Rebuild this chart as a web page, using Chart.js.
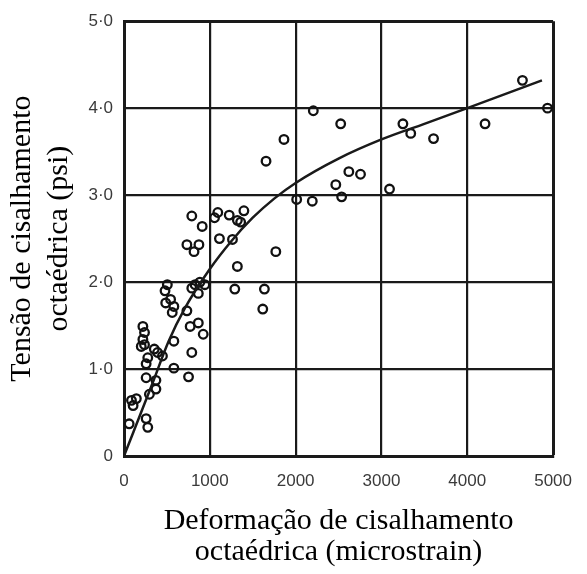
<!DOCTYPE html>
<html>
<head>
<meta charset="utf-8">
<script src="https://cdn.jsdelivr.net/npm/chart.js@4"></script>
<style>
  html, body { margin: 0; padding: 0; background: #fff; }
  #wrap { width: 587px; height: 574px; }
</style>
</head>
<body>
<div id="wrap"><canvas id="c"></canvas></div>
<script>
// measured points: octahedral shear strain (microstrain) vs octahedral shear stress (psi)
var strainX = [60, 258, 277, 87, 144, 106, 258, 372, 372, 296, 277, 258, 353, 391, 448,
    220, 239, 220, 201, 239, 581, 752, 790, 581, 771, 866, 923, 733, 486, 543, 581, 562,
    505, 478, 790, 828, 885, 866, 942,
    790, 911, 1055, 1093, 1226, 1397, 1321, 1359, 1112, 1264, 733, 816, 873, 1769, 1321,
    1291, 1636, 1617,
    2206, 2525, 1864, 1655, 2620, 2756, 2468, 2536, 2012, 2194, 3094, 3250, 3341, 3607,
    4207, 4643, 4935];
var stressY = [0.37, 0.43, 0.33, 0.64, 0.66, 0.58, 0.90, 0.87, 0.77, 0.71, 1.13, 1.06, 1.23, 1.19, 1.15,
    1.49, 1.42, 1.34, 1.26, 1.28, 1.01, 0.91, 1.19, 1.32, 1.49, 1.53, 1.40, 1.67, 1.76, 1.80, 1.72, 1.65,
    1.97, 1.90, 1.93, 1.97, 2.00, 1.87, 1.97,
    2.76, 2.64, 2.74, 2.80, 2.77, 2.82, 2.71, 2.69, 2.50, 2.49, 2.43, 2.35, 2.43, 2.35, 2.18,
    1.92, 1.92, 1.69,
    3.97, 3.82, 3.64, 3.39, 3.27, 3.24, 3.12, 2.98, 2.95, 2.93, 3.07, 3.82, 3.71, 3.65,
    3.82, 4.32, 4.00];

// fitted curve
var curveX = [0, 330, 520, 710, 1000, 1250, 1500, 1750, 2000, 2500, 3000, 3500, 4000, 4870];
var curveY = [0, 0.83, 1.32, 1.70, 2.15, 2.47, 2.74, 2.96, 3.14, 3.42, 3.64, 3.82, 4.00, 4.32];

var xTickLabels = ['0', '1000', '2000', '3000', '4000', '5000'];
var yTickLabels = ['0', '1·0', '2·0', '3·0', '4·0', '5·0'];

var xTitle = ['Deformação de cisalhamento', 'octaédrica (microstrain)'];
var yTitle = ['Tensão de cisalhamento', 'octaédrica (psi)'];

function pts(xs, ys) { return xs.map(function (x, i) { return { x: x, y: ys[i] }; }); }
function edgeWidth(ctx) { return ctx.index === 5 ? 3 : 2.2; }

var tickFont = { family: '"Liberation Sans", Arial, sans-serif', size: 17 };
var titleFont = { family: '"Liberation Serif", "Times New Roman", serif', size: 30 };

new Chart(document.getElementById('c'), {
    type: 'scatter',
    data: {
        datasets: [{
            type: 'line',
            data: pts(curveX, curveY),
            borderColor: '#1a1a1a',
            borderWidth: 2.5,
            pointRadius: 0,
            fill: false,
            cubicInterpolationMode: 'monotone'
        }, {
            data: pts(strainX, stressY),
            pointRadius: 4.3,
            pointBorderWidth: 2.3,
            pointBorderColor: '#111',
            pointBackgroundColor: 'rgba(0,0,0,0)'
        }]
    },
    options: {
        responsive: true,
        maintainAspectRatio: false,
        animation: false,
        layout: { padding: { top: 17, right: 24, bottom: 0, left: 0 } },
        plugins: { legend: { display: false }, tooltip: { enabled: false } },
        scales: {
            x: {
                type: 'linear', min: 0, max: 5000,
                afterFit: function (s) { s.height = 118; },
                grid: { color: '#1a1a1a', lineWidth: edgeWidth, drawTicks: false },
                border: { color: '#1a1a1a', width: 3 },
                ticks: {
                    stepSize: 1000, padding: 15, color: '#3a3a3a', font: tickFont,
                    maxRotation: 0,
                    callback: function (v, i) { return xTickLabels[i]; }
                },
                title: {
                    display: true, text: xTitle, color: '#000',
                    font: Object.assign({ lineHeight: 1.03 }, titleFont),
                    padding: { top: 0, bottom: 6.5 }
                }
            },
            y: {
                type: 'linear', min: 0, max: 5,
                afterFit: function (s) { s.width = 124; },
                grid: { color: '#1a1a1a', lineWidth: edgeWidth, drawTicks: false },
                border: { color: '#1a1a1a', width: 3 },
                ticks: {
                    stepSize: 1, padding: 11, color: '#3a3a3a', font: tickFont,
                    callback: function (v, i) { return yTickLabels[i]; }
                },
                title: {
                    display: true, text: yTitle, color: '#000',
                    font: Object.assign({ lineHeight: 1.23 }, titleFont),
                    padding: { top: 4, bottom: 0 }
                }
            }
        }
    }
});
</script>
</body>
</html>
